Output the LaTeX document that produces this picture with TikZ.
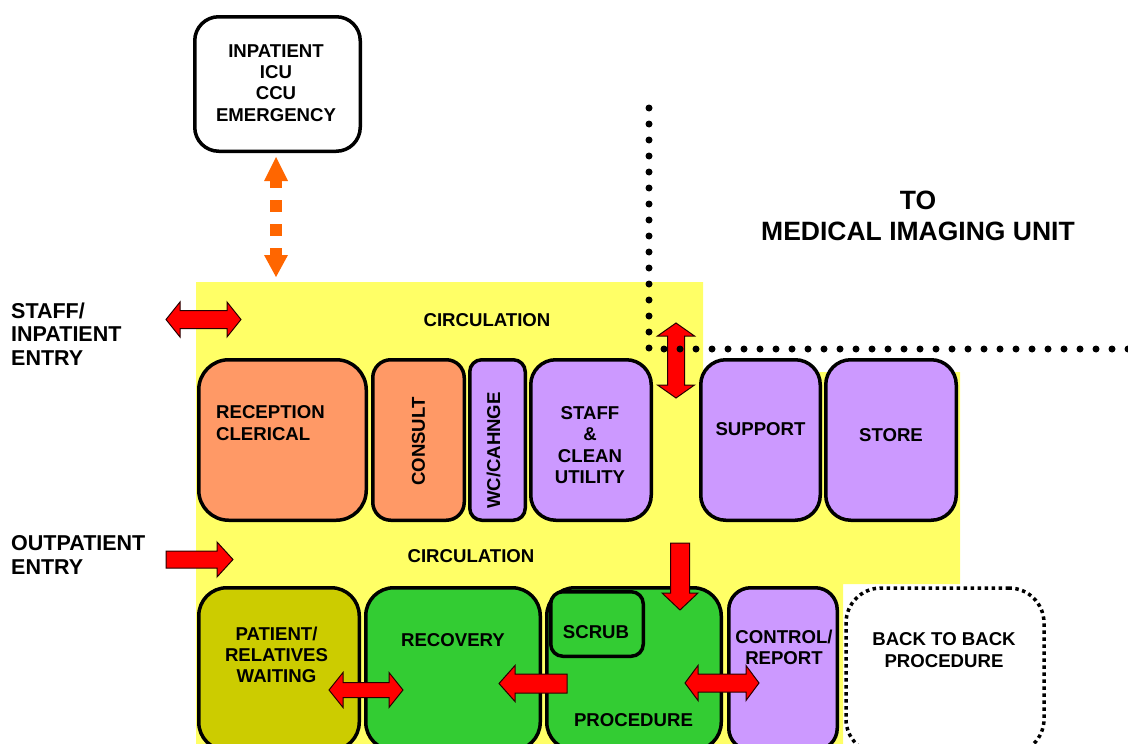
\documentclass[tikz,border=0pt]{standalone}
\usepackage{fontspec}
\setmainfont{Liberation Sans}
\usetikzlibrary{calc}
\definecolor{circyellow}{HTML}{FFFF66}
\definecolor{roomorange}{HTML}{FF9966}
\definecolor{roompurple}{HTML}{CC99FF}
\definecolor{roomolive}{HTML}{CCCC00}
\definecolor{roomgreen}{HTML}{33CC33}
\definecolor{linkorange}{HTML}{FF6600}
\definecolor{flowred}{HTML}{FF0000}
\begin{document}
\begin{tikzpicture}[x=1pt,y=-1pt,
  room/.style={draw=black, line width=3.5pt, rounded corners=#1, inner sep=0pt},
  room/.default=24pt,
  lbl/.style={font=\bfseries\fontsize{18.6}{21.3}\selectfont, align=center, inner sep=0pt, text=black},
  entrylbl/.style={font=\bfseries\fontsize{21.5}{23.7}\selectfont, align=left, inner sep=0pt, anchor=west},
  unitlbl/.style={font=\bfseries\fontsize{26.5}{31}\selectfont, align=center, inner sep=0pt},
  blockarrow/.style={fill=flowred, draw=black!85!red, line width=1pt, line join=miter},
  orangelink/.style={fill=linkorange, draw=none},
  dotline/.style={line width=7pt, dash pattern=on 0pt off 16pt, line cap=round},
  pics/twoway/.style n args={4}{code={
    \draw[blockarrow] (-#1,0) -- (-#1+#4,-#3) -- (-#1+#4,-#2) -- (#1-#4,-#2) -- (#1-#4,-#3)
      -- (#1,0) -- (#1-#4,#3) -- (#1-#4,#2) -- (-#1+#4,#2) -- (-#1+#4,#3) -- cycle;}},
  pics/oneway/.style n args={4}{code={
    \draw[blockarrow] (-#1,-#2) -- (#1-#4,-#2) -- (#1-#4,-#3) -- (#1,0) -- (#1-#4,#3)
      -- (#1-#4,#2) -- (-#1,#2) -- cycle;}}
]
\useasboundingbox (0,0) rectangle (1128,744);
\clip (0,0) rectangle (1128,744);

% circulation zone
\fill[circyellow] (196,282) -- (703,282) -- (703,372) -- (960,372) -- (960,584)
  -- (843,584) -- (843,770) -- (196,770) -- cycle;

% department outside the unit
\node[room=24pt, fill=white, minimum width=165.5, minimum height=134.5] (icu) at (277.5,84) {};
\node[lbl] (icu-t) at (276,83) {INPATIENT\\ICU\\CCU\\EMERGENCY};

% link to inpatient / ICU / CCU / emergency
\fill[orangelink] (276,157) -- (288,181) -- (264,181) -- cycle;
\fill[orangelink] (276,277) -- (288,255) -- (264,255) -- cycle;
\draw[linkorange, line width=12pt, dash pattern=on 8pt off 12pt on 12pt off 12pt on 12pt off 12pt on 8pt]
  (276,180) -- (276,256);

% upper row of rooms
\node[room=30pt, fill=roomorange, minimum width=167.5, minimum height=160.5] (reception) at (282.5,440) {};
\node[room=18pt, fill=roomorange, minimum width=91.5, minimum height=160.5] (consult) at (418.5,440) {};
\node[room=12pt, fill=roompurple, minimum width=55.5, minimum height=160.5] (wc) at (497.5,440) {};
\node[room=25pt, fill=roompurple, minimum width=120.5, minimum height=160.5] (staff) at (591,440) {};
\node[room=25pt, fill=roompurple, minimum width=119.5, minimum height=160.5] (support) at (760.5,440) {};
\node[room=25pt, fill=roompurple, minimum width=130.5, minimum height=160.5] (store) at (891,440) {};

\node[lbl, align=left, anchor=west] (reception-t) at (216,423) {RECEPTION\\CLERICAL};
\node[lbl, rotate=90] (consult-t) at (418.5,441.5) {CONSULT};
\node[lbl, rotate=90] (wc-t) at (493.5,450.5) {WC/CAHNGE};
\node[lbl] (staff-t) at (590,445) {STAFF\\\&\\CLEAN\\UTILITY};
\node[lbl] (support-t) at (760.5,429) {SUPPORT};
\node[lbl] (store-t) at (891,435) {STORE};

% lower row of rooms
\node[room=28pt, fill=roomolive, minimum width=160.5, minimum height=162.5] (waiting) at (279,669) {};
\node[room=28pt, fill=roomgreen, minimum width=174.5, minimum height=162.5] (recovery) at (453,669) {};
\node[room=28pt, fill=roomgreen, minimum width=174.5, minimum height=162.5] (procedure) at (634,669) {};
\node[room=12pt, fill=roomgreen, minimum width=92.5, minimum height=64.5] (scrub) at (597,624) {};
\node[room=22pt, fill=roompurple, minimum width=108.5, minimum height=162.5] (control) at (783,669) {};
\node[draw=black, fill=white, line width=3.5pt, dash pattern=on 3.5pt off 3.5pt,
  rounded corners=35pt, inner sep=0pt, minimum width=198, minimum height=166] (backtoback) at (945,671) {};

\node[lbl] (waiting-t) at (276.5,655) {PATIENT/\\RELATIVES\\WAITING};
\node[lbl] (recovery-t) at (453,640) {RECOVERY};
\node[lbl] (scrub-t) at (596,632.5) {SCRUB};
\node[lbl] (procedure-t) at (633.5,720) {PROCEDURE};
\node[lbl] (control-t) at (784,647) {CONTROL/\\REPORT};
\node[lbl] (backtoback-t) at (944,650) {BACK TO BACK\\PROCEDURE};

% circulation and entry labels
\node[lbl] (circ-upper) at (487,320) {CIRCULATION};
\node[lbl] (circ-lower) at (471,556.5) {CIRCULATION};
\node[entrylbl] (staff-entry) at (11,334) {STAFF/\\INPATIENT\\ENTRY};
\node[entrylbl] (out-entry) at (11,555) {OUTPATIENT\\ENTRY};
\node[unitlbl] (imaging) at (918,215.5) {TO\\MEDICAL IMAGING UNIT};

% movement arrows
\pic (staff-flow) at (203.5,319.5) {twoway={37.5}{9}{17.5}{14}};
\pic (out-flow) at (199.5,559.5) {oneway={33.5}{8.5}{17.5}{16}};
\pic[rotate=90] (imaging-flow) at (676,360.5) {twoway={37.5}{8.5}{18.5}{13}};
\pic[rotate=-90] (procedure-in) at (680,576.5) {oneway={33.5}{9.5}{18}{17}};
\pic (recovery-flow) at (366,690) {twoway={37}{7.5}{17.5}{14}};
\pic[rotate=180] (to-recovery) at (533,683.5) {oneway={34}{9.5}{18}{16}};
\pic (control-flow) at (722,683) {twoway={37}{9}{17.5}{13}};

% boundary of the medical imaging unit
\draw[dotline] (649,108) -- (649,349) -- (1140,349);
\end{tikzpicture}
\end{document}
